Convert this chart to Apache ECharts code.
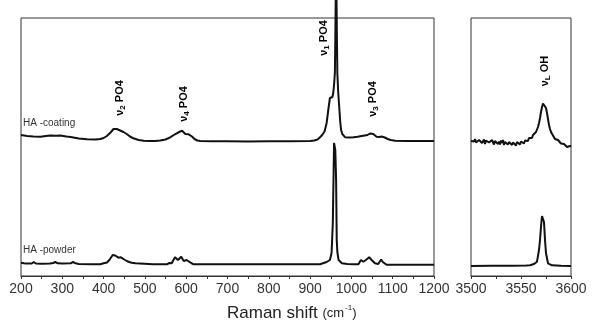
<!DOCTYPE html>
<html>
<head>
<meta charset="utf-8">
<script src="https://cdn.jsdelivr.net/npm/echarts@6/dist/echarts.min.js"></script>
<style>html,body{margin:0;padding:0;background:#fff}#c{width:600px;height:333px}</style>
</head>
<body>
<div id="c"></div>
<script>
// Raman shift (cm-1) vs intensity (a.u., offset)
const ticksLeft = [200, 300, 400, 500, 600, 700, 800, 900, 1000, 1100, 1200];
const ticksRight = [3500, 3550, 3600];

const coatingPO4 = [[200,141],[215,140],[230,139.5],[247,139.3],[260,140],[271,140.5],[285,140.3],[295,140.5],[310,139.5],[320,139],
[340,137.5],[360,136.7],[380,136.5],[392,137],[400,138],[408,140],[418,144],[424,147],[428,148],[432,147],
[436,146.5],[440,145.5],[448,144],[456,142],[464,139.5],[472,137.7],[485,136],[497,135.3],[510,135],[525,135],
[537,135.5],[550,136.5],[561,138.7],[570,141],[577,142.7],[583,144],[586,143],[590,145.3],[594,144],[598,142],
[602,142.5],[606,141.7],[610,140.5],[614,139.5],[620,137],[627,135.5],[634,135],[660,134.7],[700,134.7],[750,134.5],
[800,134.7],[850,134.7],[900,135],[910,135.5],[918,136.5],[924,138.7],[930,141.5],[935,144.5],[940,153],[944,166],
[948,178],[950,180],[952,178],[954,179],[956,183],[958,191],[960,203],[961,236],[962,276],[963,285],
[964,276],[965,236],[966,203],[968,184],[971,166],[973,154],[975,146],[978,142],[981,140],[985,138.7],
[995,138.5],[1005,138.7],[1015,139.2],[1025,140],[1032,140.5],[1039,141],[1045,142.5],[1049,144],[1053,142],[1057,140.5],
[1061,139.3],[1068,139],[1073,139.5],[1077,140],[1081,138.5],[1088,137],[1095,136],[1106,135.3],[1130,135],[1160,135],[1200,135]];

const powderPO4 = [[200,13.3],[207,12.7],[212,12.5],[215,14],[219,12.5],[226,12.5],[231,14],[236,12.5],[250,12.3],[270,12.5],
[278,13],[283,14],[289,12.7],[300,12.5],[320,12.7],[326,14],[332,12.7],[340,12],[344,11.7],[370,11.7],
[392,11.7],[400,12.7],[408,13.5],[414,16],[418,18.5],[422,21],[425,21.7],[428,20.5],[431,19.3],[436,18.3],
[442,18.7],[446,17.7],[450,16.5],[456,15],[462,14],[468,13.3],[477,12.7],[481,11.7],[520,11.7],[553,11.7],
[557,10],[559,13],[561,14.3],[563,12],[565,12.7],[569,16],[573,18.7],[577,17.5],[580,16],[584,18],
[588,19.3],[591,17.5],[594,15],[598,15],[601,16],[604,15],[607,14.3],[612,13],[618,11.7],[700,11.7],
[800,11.7],[900,11.7],[924,11.7],[928,12.7],[940,14],[948,16],[952,23],[955,53],[957,106],[958,133],
[960,133],[961,126],[963,96],[964.5,36],[966,24],[969,16],[972,14],[977,12.7],[990,12],[1005,11.7],
[1017,11.7],[1020,13.5],[1023,16],[1026,15.5],[1029,14.3],[1032,15],[1035,16],[1039,17.5],[1043,18.7],[1046,17.5],
[1049,16],[1053,14],[1057,12.7],[1065,12],[1069,13.5],[1072,16.5],[1074,17],[1076,14],[1078,12],[1085,11.3],[1200,11.3]];

const coatingOHStart = 3500;
const coatingOH = [135,133,136,134.5,137,133.5,135.5,132.5,136,134,
137.5,133,135,136.5,132,135.5,134,137,133.5,135,
132.5,136,134,131.5,135,133,136.5,132,134.5,131.5,
135.5,133,136,131,134,132.5,135.5,131.5,134,132,
135,131,133.5,132,135.5,130.5,134,132.5,135,131.5,
134.5,133,136,132.5,135.5,134,137,135,138,137,
139.5,138,141,140,143,144,146.5,149,153,158,
164,169,172.5,174,171,168,163,157,151,147,
144,142.5,140.5,139.5,137,137.5,135.5,136,134,134.5,
132.5,133.5,131,132,130.5,131.5,129,131,128.5,130,129.5];

const powderOH = [[3500,10],[3520,10.2],[3540,10.2],[3555,10.5],[3559,10.7],[3563,12],[3566,14.3],[3568,26],[3569,36],[3570,49.3],
[3571,60],[3572,60.5],[3573,54],[3574,36],[3575,22.7],[3577,12.7],[3579,11],[3581,10.7],[3590,10.2],[3600,10]];

const peakLabels = [
  {text: '{n|ν}{s|2}{n| PO4}', x: 120, y: 98},
  {text: '{n|ν}{s|4}{n| PO4}', x: 184, y: 104},
  {text: '{n|ν}{s|1}{n| PO4}', x: 324, y: 38},
  {text: '{n|ν}{s|3}{n| PO4}', x: 373, y: 99},
  {text: '{n|ν}{s|L}{n| OH}', x: 545, y: 71}
];
const sampleLabels = [
  {text: 'HA -coating', x: 23, y: 123},
  {text: 'HA -powder', x: 23, y: 250}
];

const ohData = coatingOH.map((v, i) => [coatingOHStart + i, v]);
const axisColor = '#333';
const font = 'Liberation Sans, Arial, sans-serif';

function xAx(grid, ticks) {
  const min = ticks[0], max = ticks[ticks.length - 1];
  return {
    type: 'value', gridIndex: grid, min: min, max: max, interval: ticks[1] - ticks[0],
    axisLine: {show: true, lineStyle: {color: axisColor, width: 1}},
    axisTick: {show: true, inside: false, length: 3, lineStyle: {color: axisColor}},
    minorTick: {show: true, splitNumber: 2, length: 3, lineStyle: {color: axisColor}},
    splitLine: {show: false},
    axisLabel: {fontSize: 14, color: '#333', margin: 6, fontFamily: font, hideOverlap: false,
      showMinLabel: true, showMaxLabel: true, formatter: v => String(v)}
  };
}
function yAx(grid) {
  return {type: 'value', gridIndex: grid, min: 0, max: 258, show: false};
}
const lineStyle = {color: '#111', width: 2};
function ser(xi, data) {
  return {type: 'line', xAxisIndex: xi, yAxisIndex: xi, data: data, showSymbol: false, symbol: 'none',
    lineStyle: lineStyle, clip: false, animation: false, silent: true};
}

const graphics = [];
peakLabels.forEach(l => graphics.push({
  type: 'text', x: l.x, y: l.y, rotation: Math.PI / 2, silent: true,
  style: {text: l.text, align: 'center', verticalAlign: 'middle', fill: '#000',
    rich: {n: {fontSize: 11, fontWeight: 'bold', fontFamily: font, lineHeight: 14, fill: '#000'},
           s: {fontSize: 8, fontWeight: 'bold', fontFamily: font, lineHeight: 14, verticalAlign: 'bottom', fill: '#000', padding: [5, 0, 0, 0]}}}
}));
sampleLabels.forEach(l => graphics.push({
  type: 'text', x: l.x, y: l.y, silent: true,
  style: {text: l.text, align: 'left', verticalAlign: 'middle', fill: '#333', fontSize: 10, fontFamily: font}
}));
graphics.push({
  type: 'text', x: 227, y: 313, silent: true,
  style: {text: '{a|Raman shift }{b|(cm}{c|-1}{b|)}', align: 'left', verticalAlign: 'middle',
    rich: {a: {fontSize: 17, fontFamily: font, fill: '#222'},
           b: {fontSize: 13, fontFamily: font, fill: '#222'},
           c: {fontSize: 8, fontFamily: font, fill: '#222', padding: [0, 0, 10, 1]}}}
});

const chart = echarts.init(document.getElementById('c'), null, {renderer: 'canvas'});
chart.setOption({
  animation: false,
  backgroundColor: '#fff',
  grid: [
    {left: 21, top: 18, width: 413, height: 258, show: true, borderColor: axisColor, borderWidth: 1, containLabel: false},
    {left: 471, top: 18, width: 100, height: 258, show: true, borderColor: axisColor, borderWidth: 1, containLabel: false}
  ],
  xAxis: [xAx(0, ticksLeft), xAx(1, ticksRight)],
  yAxis: [yAx(0), yAx(1)],
  series: [ser(0, coatingPO4), ser(0, powderPO4), ser(1, ohData), ser(1, powderOH)],
  graphic: graphics
});
</script>
</body>
</html>
